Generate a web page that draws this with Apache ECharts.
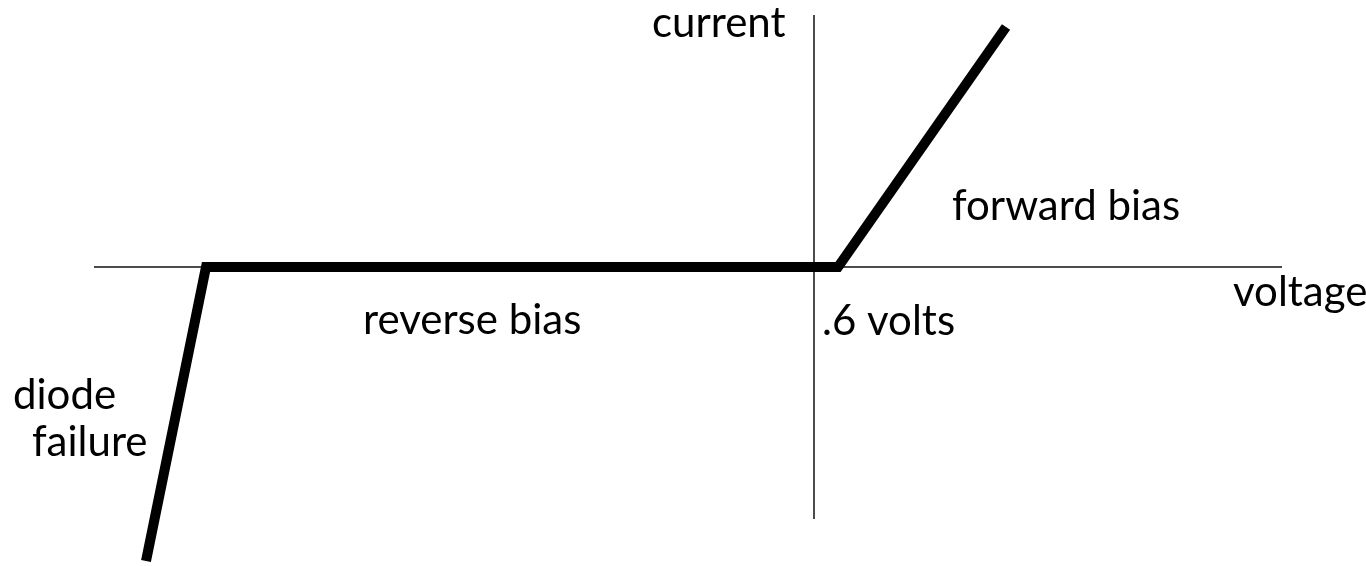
<!DOCTYPE html>
<html>
<head>
<meta charset="utf-8">
<script src="https://cdn.jsdelivr.net/npm/echarts@6/dist/echarts.min.js"></script>
<style>
  html, body { margin: 0; padding: 0; background: #fff; }
  #chart { width: 1366px; height: 566px; }
</style>
</head>
<body>
<div id="chart"></div>
<script>
// diode I-V sketch: volts on x, current (arbitrary units) on y
const voltage = [-16.7, -15.2, 0.6, 4.8]
const current = [-14.7, 0, 0, 12.0]

// axis lines as drawn (they don't span the whole plot)
const xAxisEnds = [-18.0, 11.7]
const yAxisEnds = [-12.6, 12.6]

// label anchors: left edge / baseline, in data units
const labelText = ['current', 'voltage', 'forward bias', 'reverse bias', '.6 volts', 'diode', 'failure']
const labelX = [-4.05, 10.475, 3.45, -11.275, 0.2, -20.025, -19.55]
const labelY = [11.55, -1.9, 2.4, -3.3, -3.35, -7.05, -9.4]

const chart = echarts.init(document.getElementById('chart'))

const hidden = {
  axisLine: { show: false },
  axisTick: { show: false },
  axisLabel: { show: false },
  splitLine: { show: false }
}

chart.setOption({
  animation: false,
  backgroundColor: '#fff',
  grid: { left: 0, right: 0, top: 0, bottom: 0 },
  xAxis: { type: 'value', min: -20.35, max: 13.8, ...hidden },
  yAxis: { type: 'value', min: -14.95, max: 13.35, ...hidden },
  series: [
    {
      type: 'line',
      symbol: 'none',
      data: xAxisEnds.map(v => [v, 0]),
      lineStyle: { color: '#111', width: 1.5 }
    },
    {
      type: 'line',
      symbol: 'none',
      data: yAxisEnds.map(v => [0, v]),
      lineStyle: { color: '#111', width: 1.5 }
    },
    {
      type: 'line',
      symbol: 'none',
      data: voltage.map((v, i) => [v, current[i]]),
      lineStyle: { color: '#000', width: 10, cap: 'butt', join: 'miter' }
    }
  ]
})

// text is top-aligned by zrender, so lift it so the baseline lands on the anchor
const fontSize = 42
const baselineLift = 34

chart.setOption({
  graphic: labelText.map((t, i) => {
    const p = chart.convertToPixel({ gridIndex: 0 }, [labelX[i], labelY[i]])
    return {
      type: 'text',
      x: p[0],
      y: p[1] - baselineLift,
      style: {
        text: t,
        fill: '#000',
        font: fontSize + 'px Lato',
        textAlign: 'left',
        verticalAlign: 'top'
      }
    }
  })
})
</script>
</body>
</html>
